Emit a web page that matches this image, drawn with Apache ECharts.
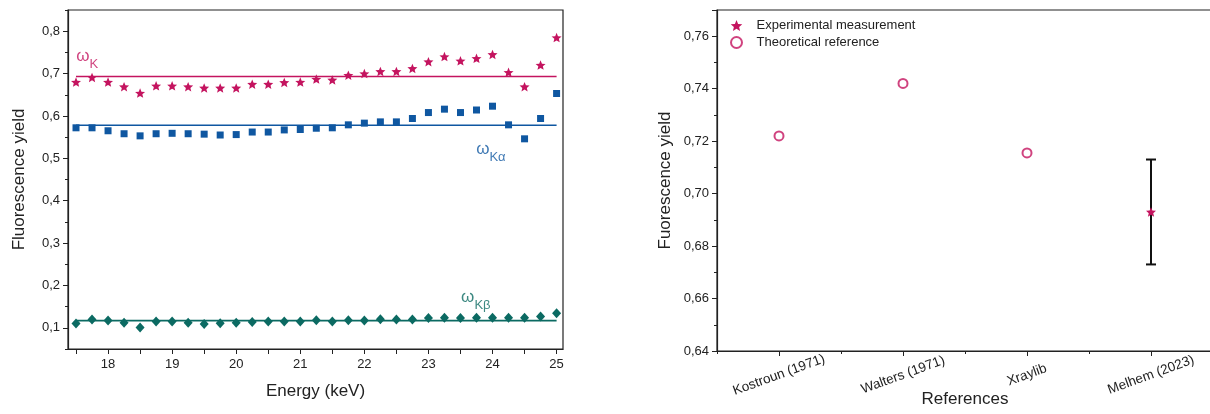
<!DOCTYPE html>
<html>
<head>
<meta charset="utf-8">
<script src="https://cdn.jsdelivr.net/npm/echarts@6/dist/echarts.min.js"></script>
<style>
html,body{margin:0;padding:0;background:#fff;}
#chart{width:1210px;height:414px;}
</style>
</head>
<body>
<div id="chart"></div>
<script>
// ---------- data (left panel) ----------
const energy = [17.5,17.75,18,18.25,18.5,18.75,19,19.25,19.5,19.75,20,20.25,20.5,20.75,21,21.25,21.5,21.75,22,22.25,22.5,22.75,23,23.25,23.5,23.75,24,24.25,24.5,24.75,25];
const omegaK = [0.680,0.691,0.680,0.669,0.654,0.671,0.671,0.669,0.666,0.666,0.666,0.675,0.675,0.679,0.680,0.687,0.685,0.696,0.700,0.705,0.705,0.712,0.728,0.740,0.730,0.736,0.745,0.703,0.669,0.720,0.785];
const omegaKa = [0.572,0.572,0.565,0.558,0.553,0.558,0.559,0.558,0.557,0.555,0.556,0.562,0.562,0.567,0.568,0.571,0.572,0.579,0.583,0.586,0.586,0.594,0.608,0.616,0.608,0.614,0.623,0.579,0.546,0.594,0.653];
const omegaKb = [0.110,0.1195,0.117,0.112,0.101,0.115,0.115,0.112,0.109,0.111,0.112,0.114,0.115,0.115,0.115,0.118,0.115,0.118,0.117,0.120,0.1195,0.1195,0.123,0.124,0.123,0.1235,0.1235,0.124,0.124,0.1265,0.1345];
const meanK = 0.693, meanKa = 0.578, meanKb = 0.117;
const meanRange = [17.5, 25];
const xTickValues = [17.5,18,18.5,19,19.5,20,20.5,21,21.5,22,22.5,23,23.5,24,24.5,25];
const xLabelValues = [18,19,20,21,22,23,24,25];
const yLabelValues = [0.1,0.2,0.3,0.4,0.5,0.6,0.7,0.8];
// annotation anchors (data coordinates)
const annoK = [17.505, 0.742];
const annoKa = [23.745, 0.522];
const annoKb = [23.51, 0.172];

// ---------- data (right panel) ----------
const references = ['Kostroun (1971)','Walters (1971)','Xraylib','Melhem (2023)'];
const theoretical = [0.722, 0.742, 0.7155];
const experimental = 0.693;
const expError = 0.020;
const rightYLabels = [0.64,0.66,0.68,0.70,0.72,0.74,0.76];

const MAG = '#C4145F', BLUE = '#0F57A1', TEAL = '#0B6A62', AX = '#222';
const FONT = '"Liberation Sans", Arial, sans-serif';
const STAR = 'path://M100,0 L126,64 L195,69 L143,114 L159,181 L100,145 L41,181 L57,114 L5,69 L74,64 Z';

const fmt = (v, d) => v.toFixed(d).replace('.', ',');

const axisLine = {show: true, onZero: false, lineStyle: {color: AX, width: 1.2}};

const chart = echarts.init(document.getElementById('chart'), null, {renderer: 'canvas'});
const option = {
  animation: false,
  backgroundColor: '#fff',
  textStyle: {fontFamily: FONT},
  grid: [
    {left: 68, right: 647, top: 10, bottom: 65, show: true, borderColor: AX, borderWidth: 1.2, backgroundColor: 'transparent', outerBoundsMode: 'none', containLabel: false},
    {left: 717, right: -3, top: 10, bottom: 63, show: true, borderColor: AX, borderWidth: 1.2, backgroundColor: 'transparent', outerBoundsMode: 'none', containLabel: false}
  ],
  legend: {
    left: 725, top: 14, orient: 'vertical', itemGap: 4, itemWidth: 30, itemHeight: 11,
    textStyle: {fontSize: 13, color: AX, fontFamily: FONT},
    data: [
      {name: 'Experimental measurement', icon: STAR, itemStyle: {color: MAG}},
      {name: 'Theoretical reference', icon: 'emptyCircle', itemStyle: {color: MAG, borderColor: MAG, borderWidth: 1.3}}
    ]
  },
  xAxis: [
    {
      gridIndex: 0, type: 'value', min: 17.375, max: 25.1,
      axisLine: axisLine, splitLine: {show: false},
      name: 'Energy (keV)', nameLocation: 'middle', nameGap: 34,
      nameTextStyle: {fontSize: 17, color: AX, fontFamily: FONT},
      axisTick: {show: true, length: 5, lineStyle: {color: AX}, customValues: xTickValues},
      axisLabel: {color: AX, fontSize: 13, fontFamily: FONT, margin: 9, customValues: xLabelValues, formatter: v => String(v)}
    },
    {
      gridIndex: 1, type: 'value', min: -0.5, max: 3.5, interval: 1,
      axisLine: axisLine, splitLine: {show: false},
      name: 'References', nameLocation: 'middle', nameGap: 40, nameMoveOverlap: false,
      nameTextStyle: {fontSize: 17, color: AX, fontFamily: FONT},
      axisTick: {show: true, length: 3, lineStyle: {color: AX}},
      minorTick: {show: true, splitNumber: 2, length: 5, lineStyle: {color: AX}},
      axisLabel: {color: AX, fontSize: 13.5, fontFamily: FONT, rotate: 20, align: 'center', verticalAlign: 'middle', margin: 24,
        customValues: [0,1,2,3], formatter: v => references[Math.round(v)] || ''}
    }
  ],
  yAxis: [
    {
      gridIndex: 0, type: 'value', min: 0.05, max: 0.85, interval: 0.1,
      axisLine: axisLine, splitLine: {show: false},
      name: 'Fluorescence yield', nameLocation: 'middle', nameGap: 40,
      nameTextStyle: {fontSize: 17, color: AX, fontFamily: FONT},
      axisTick: {show: true, length: 3, lineStyle: {color: AX}},
      minorTick: {show: true, splitNumber: 2, length: 5, lineStyle: {color: AX}},
      axisLabel: {color: AX, fontSize: 13, fontFamily: FONT, margin: 8, customValues: yLabelValues, formatter: v => fmt(v, 1)}
    },
    {
      gridIndex: 1, type: 'value', min: 0.64, max: 0.77, interval: 0.02,
      axisLine: axisLine, splitLine: {show: false},
      name: 'Fuorescence yield', nameLocation: 'middle', nameGap: 43,
      nameTextStyle: {fontSize: 17, color: AX, fontFamily: FONT},
      axisTick: {show: true, length: 5, lineStyle: {color: AX}},
      minorTick: {show: true, splitNumber: 2, length: 3, lineStyle: {color: AX}},
      axisLabel: {color: AX, fontSize: 13, fontFamily: FONT, margin: 8, customValues: rightYLabels, formatter: v => fmt(v, 2)}
    }
  ],
  series: [
    {type: 'line', xAxisIndex: 0, yAxisIndex: 0, showSymbol: false, silent: true,
      data: meanRange.map(x => [x, meanK]), lineStyle: {color: MAG, width: 1.6}, z: 1},
    {type: 'line', xAxisIndex: 0, yAxisIndex: 0, showSymbol: false, silent: true,
      data: meanRange.map(x => [x, meanKa]), lineStyle: {color: BLUE, width: 1.6}, z: 1},
    {type: 'line', xAxisIndex: 0, yAxisIndex: 0, showSymbol: false, silent: true,
      data: meanRange.map(x => [x, meanKb]), lineStyle: {color: TEAL, width: 1.6}, z: 1},
    {type: 'scatter', xAxisIndex: 0, yAxisIndex: 0, symbol: STAR, symbolSize: [10, 9.5],
      itemStyle: {color: MAG, opacity: 1}, data: energy.map((x, i) => [x, omegaK[i]]), z: 3},
    {type: 'scatter', xAxisIndex: 0, yAxisIndex: 0, symbol: 'rect', symbolSize: 7,
      itemStyle: {color: BLUE, opacity: 1}, data: energy.map((x, i) => [x, omegaKa[i]]), z: 3},
    {type: 'scatter', xAxisIndex: 0, yAxisIndex: 0, symbol: 'diamond', symbolSize: [9, 10],
      itemStyle: {color: TEAL, opacity: 1}, data: energy.map((x, i) => [x, omegaKb[i]]), z: 3},
    {type: 'scatter', xAxisIndex: 0, yAxisIndex: 0, symbolSize: 0, silent: true, z: 4,
      label: {show: true, position: 'right', distance: 0,
        formatter: p => '{w|ω}{s|' + p.data.sub + '}',
        rich: {
          w: {fontSize: 17, fontFamily: FONT, verticalAlign: 'bottom', lineHeight: 18},
          s: {fontSize: 13, fontFamily: FONT, verticalAlign: 'bottom', lineHeight: 13, padding: [0, 0, -6, 0]}
        }},
      data: [
        {value: annoK, sub: 'K', label: {color: MAG, rich: {w: {color: MAG}, s: {color: MAG}}}},
        {value: annoKa, sub: 'Kα', label: {color: BLUE, rich: {w: {color: BLUE}, s: {color: BLUE}}}},
        {value: annoKb, sub: 'Kβ', label: {color: TEAL, rich: {w: {color: TEAL}, s: {color: TEAL}}}}
      ]},
    {name: 'Theoretical reference', type: 'scatter', xAxisIndex: 1, yAxisIndex: 1, symbol: 'emptyCircle', symbolSize: 9,
      itemStyle: {color: MAG, borderColor: MAG, borderWidth: 1.3},
      data: theoretical.map((v, i) => [i, v])},
    {type: 'custom', xAxisIndex: 1, yAxisIndex: 1, silent: true, z: 2,
      data: [[3, experimental - expError, experimental + expError]],
      renderItem: (params, api) => {
        const lo = api.coord([api.value(0), api.value(1)]);
        const hi = api.coord([api.value(0), api.value(2)]);
        const cap = 5;
        const st = {stroke: '#111', lineWidth: 2};
        return {type: 'group', children: [
          {type: 'line', shape: {x1: lo[0], y1: lo[1], x2: hi[0], y2: hi[1]}, style: st},
          {type: 'line', shape: {x1: lo[0] - cap, y1: lo[1], x2: lo[0] + cap, y2: lo[1]}, style: st},
          {type: 'line', shape: {x1: hi[0] - cap, y1: hi[1], x2: hi[0] + cap, y2: hi[1]}, style: st}
        ]};
      }},
    {name: 'Experimental measurement', type: 'scatter', xAxisIndex: 1, yAxisIndex: 1, symbol: STAR, symbolSize: [10, 9.5],
      itemStyle: {color: MAG, opacity: 1}, data: [[3, experimental]], z: 4}
  ]
};
chart.setOption(option);
</script>
</body>
</html>
